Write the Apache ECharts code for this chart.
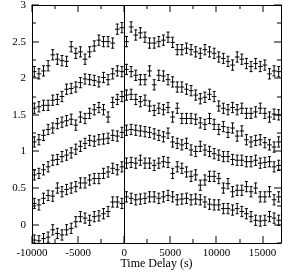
<!DOCTYPE html>
<html><head><meta charset="utf-8">
<script src="https://cdn.jsdelivr.net/npm/echarts@6/dist/echarts.min.js"></script>
<style>html,body{margin:0;padding:0;background:#fff}#c{width:283px;height:273px}</style>
</head><body><div id="c"></div>
<script>
const delays = [-9750,-9250,-8750,-8250,-7750,-7250,-6750,-6250,-5750,-5250,-4750,-4250,-3750,-3250,-2750,-2250,-1750,-1250,-750,-250,250,750,1250,1750,2250,2750,3250,
  3750,4250,4750,5250,5750,6250,6750,7250,7750,8250,8750,9250,9750,10250,10750,11250,11750,12250,12750,13250,13750,14250,14750,15250,15750,16250,16750];
const ccf1 = [2.09,2.06,2.10,2.17,2.32,2.26,2.24,2.23,2.43,2.34,2.36,2.26,2.36,2.44,2.52,2.50,2.50,2.48,2.67,2.69,2.50,2.70,2.59,2.62,2.56,2.48,2.48,
  2.50,2.52,2.56,2.49,2.39,2.39,2.41,2.39,2.36,2.34,2.39,2.36,2.34,2.29,2.27,2.23,2.18,2.29,2.26,2.20,2.16,2.20,2.16,2.18,2.06,2.10,2.09];
const ccf2 = [1.59,1.61,1.63,1.63,1.70,1.71,1.75,1.85,1.86,1.88,1.94,1.99,1.98,1.97,1.95,2.01,1.98,2.06,2.10,2.09,2.12,2.09,2.04,1.98,1.98,2.10,1.91,
  2.04,2.03,1.98,1.95,1.88,1.88,1.85,1.83,1.77,1.72,1.74,1.78,1.75,1.62,1.59,1.57,1.60,1.57,1.59,1.52,1.52,1.54,1.59,1.52,1.47,1.51,1.50];
const ccf3 = [1.13,1.16,1.22,1.30,1.32,1.38,1.40,1.42,1.44,1.36,1.47,1.45,1.52,1.57,1.60,1.57,1.47,1.67,1.71,1.75,1.77,1.78,1.71,1.68,1.70,1.62,1.56,
  1.59,1.57,1.60,1.47,1.59,1.45,1.45,1.45,1.44,1.39,1.37,1.45,1.37,1.30,1.34,1.26,1.32,1.21,1.28,1.16,1.13,1.15,1.16,1.12,1.09,1.06,1.13];
const ccf4 = [0.68,0.70,0.75,0.79,0.88,0.89,0.93,0.95,0.98,1.03,1.07,1.11,1.15,1.14,1.16,1.17,1.18,1.22,1.21,1.26,1.29,1.30,1.29,1.28,1.27,1.26,1.24,
  1.22,1.20,1.25,1.13,1.11,1.09,1.11,1.02,1.00,1.07,1.02,1.00,0.97,0.95,0.93,0.93,0.89,0.88,0.88,0.86,0.86,0.88,0.84,0.85,0.86,0.79,0.81];
const ccf5 = [0.29,0.27,0.36,0.40,0.39,0.50,0.45,0.48,0.50,0.52,0.57,0.57,0.61,0.63,0.63,0.70,0.72,0.77,0.75,0.79,0.84,0.85,0.84,0.88,0.84,0.84,0.81,
  0.84,0.86,0.85,0.70,0.79,0.77,0.72,0.66,0.68,0.54,0.61,0.66,0.66,0.63,0.50,0.56,0.45,0.47,0.47,0.52,0.45,0.50,0.38,0.38,0.45,0.34,0.38];
const ccf6 = [-0.21,-0.22,-0.19,-0.17,-0.07,-0.12,-0.14,-0.07,-0.05,0.04,0.11,0.09,0.06,0.11,0.12,0.15,0.18,0.31,0.31,0.29,0.38,0.36,0.34,0.35,0.36,0.38,0.38,
  0.36,0.38,0.40,0.38,0.34,0.35,0.36,0.34,0.35,0.34,0.31,0.28,0.27,0.27,0.22,0.22,0.20,0.22,0.18,0.15,0.11,0.06,0.05,0.06,0.11,0.09,0.06];
const allSeries = [ccf1, ccf2, ccf3, ccf4, ccf5, ccf6];
const delayHalfBin = 250;
const ccfError = 0.07;
const xTickValues = [-10000,-7500,-5000,-2500,0,2500,5000,7500,10000,12500,15000];
const yTickValues = [-0.25,0,0.25,0.5,0.75,1,1.25,1.5,1.75,2,2.25,2.5,2.75,3];

const FONT = 'Liberation Serif';
const chart = echarts.init(document.getElementById('c'), null, {renderer: 'canvas'});
const blackStroke = {stroke: '#000', lineWidth: 1, fill: null};

function renderErrorBar(params, api) {
  const x = api.value(0), y = api.value(1);
  const c = api.coord([x, y]);
  const l = api.coord([x - delayHalfBin, y]);
  const r = api.coord([x + delayHalfBin, y]);
  const t = api.coord([x, y + ccfError]);
  const b = api.coord([x, y - ccfError]);
  const cap = 1.5;
  return {type: 'group', children: [
    {type: 'line', shape: {x1: l[0], y1: c[1], x2: r[0], y2: c[1]}, style: blackStroke},
    {type: 'line', shape: {x1: c[0], y1: t[1], x2: c[0], y2: b[1]}, style: blackStroke},
    {type: 'line', shape: {x1: c[0] - cap, y1: t[1], x2: c[0] + cap, y2: t[1]}, style: blackStroke},
    {type: 'line', shape: {x1: c[0] - cap, y1: b[1], x2: c[0] + cap, y2: b[1]}, style: blackStroke}
  ]};
}

function renderXTick(params, api) {
  const v = api.value(0);
  const cs = params.coordSys;
  const p = api.coord([v, api.value(1)]);
  const len = (v % 5000 === 0) ? 7 : 4;
  const x = Math.round(p[0]);
  const bottom = cs.y + cs.height, top = cs.y;
  return {type: 'group', children: [
    {type: 'line', shape: {x1: x, y1: bottom, x2: x, y2: bottom - len}, style: blackStroke},
    {type: 'line', shape: {x1: x, y1: top, x2: x, y2: top + len}, style: blackStroke}
  ]};
}

function renderYTick(params, api) {
  const v = api.value(1);
  const cs = params.coordSys;
  const p = api.coord([api.value(0), v]);
  const len = (Math.abs(v * 2 - Math.round(v * 2)) < 1e-9) ? 7 : 4;
  const y = Math.round(p[1]);
  const left = cs.x, right = cs.x + cs.width;
  return {type: 'group', children: [
    {type: 'line', shape: {x1: left, y1: y, x2: left + len, y2: y}, style: blackStroke},
    {type: 'line', shape: {x1: right, y1: y, x2: right - len, y2: y}, style: blackStroke}
  ]};
}

const axisText = {color: '#000', fontFamily: FONT, fontSize: 11};
const nameText = {color: '#000', fontFamily: FONT, fontSize: 12};

const xAxes = [
  {type: 'value', position: 'bottom', min: -10000, max: 17000, interval: 2500,
    axisLine: {show: true, onZero: false, lineStyle: {color: '#000', width: 1}},
    axisTick: {show: false},
    axisLabel: Object.assign({margin: 5, formatter: v => (v % 5000 === 0 && v <= 15000) ? String(v) : ''}, axisText),
    splitLine: {show: false},
    name: 'Time Delay (s)', nameLocation: 'middle', nameGap: 15, nameMoveOverlap: false, nameTextStyle: nameText},
  {type: 'value', position: 'top', min: -10000, max: 17000, interval: 2500,
    axisLine: {show: true, onZero: false, lineStyle: {color: '#000', width: 1}},
    axisTick: {show: false}, axisLabel: {show: false}, splitLine: {show: false}}
];
const yAxes = [
  {type: 'value', position: 'left', min: -0.25, max: 3, interval: 0.25,
    axisLine: {show: true, onZero: false, lineStyle: {color: '#000', width: 1}},
    axisTick: {show: false},
    axisLabel: Object.assign({margin: 6, formatter: v => (v >= 0 && Math.abs(v * 2 - Math.round(v * 2)) < 1e-6) ? String(Math.round(v * 2) / 2) : ''}, axisText),
    splitLine: {show: false},
    name: 'CCF', nameLocation: 'middle', nameGap: 21, nameTextStyle: nameText},
  {type: 'value', position: 'right', min: -0.25, max: 3, interval: 0.25,
    axisLine: {show: true, onZero: false, lineStyle: {color: '#000', width: 1}},
    axisTick: {show: false}, axisLabel: {show: false}, splitLine: {show: false}}
];

const series = allSeries.map((vals, k) => ({
  type: 'custom',
  renderItem: renderErrorBar,
  clip: true,
  xAxisIndex: 0, yAxisIndex: 0,
  data: delays.map((d, i) => [d, vals[i]]),
  silent: true,
  markLine: k === 0 ? {
    silent: true, symbol: ['none', 'none'], label: {show: false},
    lineStyle: {color: '#000', width: 1, type: 'solid'},
    data: [{xAxis: 0}]
  } : undefined
}));
series.push({type: 'custom', renderItem: renderXTick, silent: true, xAxisIndex: 0, yAxisIndex: 0,
  data: xTickValues.map(v => [v, 0])});
series.push({type: 'custom', renderItem: renderYTick, silent: true, xAxisIndex: 0, yAxisIndex: 0,
  data: yTickValues.map(v => [0, v])});

chart.setOption({
  animation: false,
  backgroundColor: '#fff',
  grid: {left: 32, right: 2, top: 5, bottom: 30, containLabel: false, outerBoundsMode: 'none'},
  xAxis: xAxes,
  yAxis: yAxes,
  series: series
});
</script>
</body></html>
